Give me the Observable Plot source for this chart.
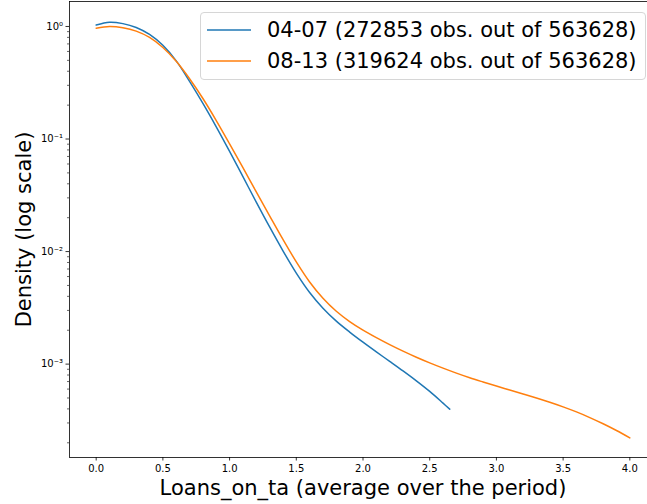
<!DOCTYPE html>
<html>
<head>
<meta charset="utf-8">
<script src="https://cdn.jsdelivr.net/npm/d3@7"></script>
<script src="https://cdn.jsdelivr.net/npm/@observablehq/plot@0.6"></script>
<style>
  html, body { margin: 0; padding: 0; overflow: hidden; background: #fff; }
  #chart { position: relative; width: 647px; height: 504px; overflow: hidden; font-family: "DejaVu Sans", sans-serif; }
  #chart > svg { display: block; max-width: none !important; width: 657px !important; height: 504px !important; }
  .legend { position: absolute; left: 200px; top: 12px; width: 444px; height: 66px;
            border: 1px solid #d6d6d6; border-radius: 4px; background: rgba(255,255,255,0.8); }
  .legend .row { position: absolute; left: 0; height: 24px; display: flex; align-items: center;
                 font-size: 21px; color: #000; white-space: nowrap; }
  .legend .row svg { display: block; margin-left: 6px; margin-right: 16px; }
</style>
</head>
<body>
<div id="chart"></div>
<script>
// Kernel density of Loans_on_ta per period, evaluated on a grid
const periods = ["04-07 (272853 obs. out of 563628)", "08-13 (319624 obs. out of 563628)"];
const colors = ["#1f77b4", "#ff7f0e"];

const x0407 = [0, 0.1, 0.2, 0.3, 0.4, 0.5, 0.6, 0.7, 0.8, 0.9, 1.0, 1.1, 1.2, 1.3, 1.4,
               1.5, 1.6, 1.7, 1.8, 1.9, 2.0, 2.1, 2.2, 2.3, 2.4, 2.5, 2.6, 2.65];
const density0407 = [1.03, 1.09, 1.06, 0.98, 0.85, 0.68, 0.495, 0.3255, 0.2073, 0.1284, 0.0777,
                     0.0463, 0.0275, 0.01654, 0.01015, 0.00644, 0.00433, 0.003138, 0.002408,
                     0.001926, 0.001566, 0.001284, 0.001058, 0.00087, 0.00071, 0.000572,
                     0.00045, 0.000398];

const x0813 = [0, 0.1, 0.2, 0.3, 0.4, 0.5, 0.6, 0.7, 0.8, 0.9, 1.0, 1.1, 1.2, 1.3, 1.4,
               1.5, 1.6, 1.7, 1.8, 1.9, 2.0, 2.1, 2.2, 2.3, 2.4, 2.5, 2.6, 2.7, 2.8, 2.9,
               3.0, 3.1, 3.2, 3.3, 3.4, 3.5, 3.6, 3.7, 3.8, 3.9, 4.0];
const density0813 = [0.966, 1.0, 0.975, 0.91, 0.80, 0.65, 0.49, 0.343, 0.229, 0.146, 0.0906,
                     0.0556, 0.0339, 0.0208, 0.01283, 0.0081, 0.00537, 0.00385, 0.00295,
                     0.00239, 0.002005, 0.001718, 0.001489, 0.001303, 0.001151, 0.001026,
                     0.000921, 0.000832, 0.000757, 0.000694, 0.000638, 0.000589, 0.000543,
                     0.0005, 0.000458, 0.000417, 0.000376, 0.000335, 0.000295, 0.000257, 0.000221];

const xTicks = [0, 0.5, 1.0, 1.5, 2.0, 2.5, 3.0, 3.5, 4.0];
const yMajorTicks = [1e-3, 1e-2, 1e-1, 1];
const xLabel = "Loans_on_ta (average over the period)";
const yLabel = "Density (log scale)";

const yDomain = [1.48e-4, 1.667];
const yMinorTicks = [];
for (let e = -4; e <= 0; e++) {
  for (let m = 2; m <= 9; m++) {
    const v = m * Math.pow(10, e);
    if (v >= yDomain[0] && v <= yDomain[1]) yMinorTicks.push(v);
  }
}

const rows = [
  ...x0407.map((x, i) => ({period: periods[0], x, y: density0407[i]})),
  ...x0813.map((x, i) => ({period: periods[1], x, y: density0813[i]}))
];

const sup = {"-": "\u207B", "0": "\u2070", "1": "\u00B9", "2": "\u00B2", "3": "\u00B3",
             "4": "\u2074", "5": "\u2075", "6": "\u2076", "7": "\u2077", "8": "\u2078", "9": "\u2079"};
const powerFormat = d => "10" + String(Math.round(Math.log10(d))).split("").map(c => sup[c]).join("");

const chart = Plot.plot({
  width: 657,
  height: 504,
  marginLeft: 69,
  marginRight: 1,
  marginTop: 1,
  marginBottom: 47,
  style: {fontFamily: "DejaVu Sans, sans-serif", fontSize: "10px", color: "#000", background: "#fff"},
  x: {domain: [-0.2, 4.2]},
  y: {type: "log", domain: yDomain},
  color: {domain: periods, range: colors},
  marks: [
    Plot.line(rows, {x: "x", y: "y", stroke: "period", strokeWidth: 1.5, curve: "catmull-rom"}),
    Plot.axisX({ticks: xTicks, tickFormat: d3.format(".1f"), tickSize: 3.5, tickPadding: 3.5,
                label: null, fontSize: 10, strokeWidth: 0.8}),
    Plot.axisY({ticks: yMajorTicks, tickFormat: powerFormat, tickSize: 3.5, tickPadding: 3,
                label: null, fontSize: 10, strokeWidth: 0.8}),
    Plot.axisY({ticks: yMinorTicks, tickFormat: () => "", tickSize: 2, label: null, strokeWidth: 0.6}),
    Plot.frame({stroke: "#000", strokeWidth: 0.8}),
    Plot.text([xLabel], {frameAnchor: "bottom", textAnchor: "middle", lineAnchor: "middle",
                         dy: 31, fontSize: 21, fill: "#000"}),
    Plot.text([yLabel], {frameAnchor: "left", textAnchor: "middle", lineAnchor: "middle",
                         rotate: -90, dx: -45, fontSize: 21, fill: "#000"})
  ]
});

const host = document.getElementById("chart");
host.appendChild(chart);

// Legend box in the upper right corner of the axes
const svgNS = "http://www.w3.org/2000/svg";
const legend = document.createElement("div");
legend.className = "legend";
periods.forEach((p, i) => {
  const row = document.createElement("div");
  row.className = "row";
  row.style.top = (i === 0 ? 5 : 35.5) + "px";
  const sw = document.createElementNS(svgNS, "svg");
  sw.setAttribute("width", "44");
  sw.setAttribute("height", "6");
  const ln = document.createElementNS(svgNS, "line");
  ln.setAttribute("x1", "0"); ln.setAttribute("x2", "44");
  ln.setAttribute("y1", "3"); ln.setAttribute("y2", "3");
  ln.setAttribute("stroke", colors[i]);
  ln.setAttribute("stroke-width", "1.5");
  sw.appendChild(ln);
  const label = document.createElement("span");
  label.textContent = p;
  row.appendChild(sw);
  row.appendChild(label);
  legend.appendChild(row);
});
host.appendChild(legend);
</script>
</body>
</html>
